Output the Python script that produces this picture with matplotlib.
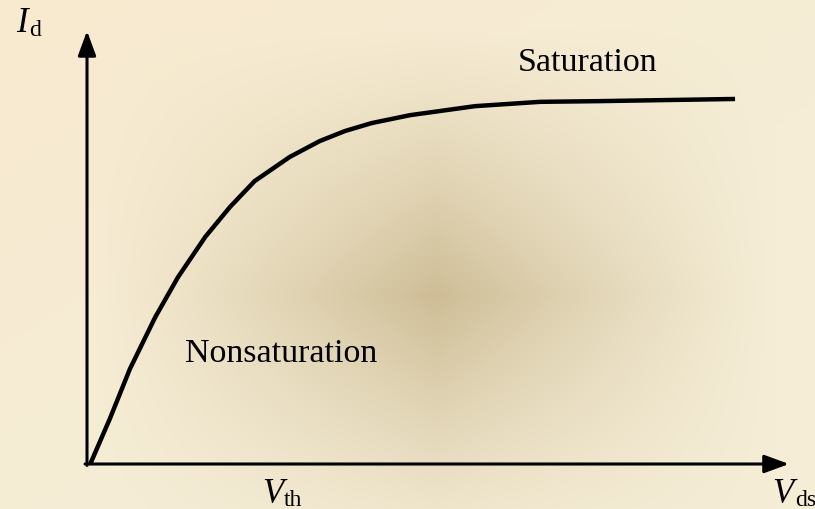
import numpy as np
import matplotlib
matplotlib.use("Agg")
import matplotlib.pyplot as plt

# Data (arbitrary units): drain current vs drain-source voltage
vds = [0.05, 0.35, 0.66, 1.05, 1.40, 1.82, 2.20, 2.58, 3.12, 3.58, 3.97, 4.38, 4.97, 5.97, 6.97, 7.89, 9.97]
i_d = [0.00, 1.25, 2.64, 4.08, 5.19, 6.31, 7.14, 7.86, 8.53, 8.97, 9.25, 9.47, 9.69, 9.94, 10.06, 10.08, 10.14]

W, H = 815, 510
fig = plt.figure(figsize=(W / 100, H / 100), dpi=100)

# background gradient (star-shaped path gradient)
bg = fig.add_axes([0, 0, 1, 1])
bg.set_axis_off()
yy, xx = np.mgrid[0:H, 0:W]
u = np.abs(xx - 436) / 340.0
v = np.abs(yy - 296) / 270.0
f = np.clip(1 - u, 0, 1) * np.clip(1 - v, 0, 1)
f = f ** 1.15
edge = np.array([245, 237, 214]) / 255.0
center = np.array([206, 189, 150]) / 255.0
warm = np.array([249, 233, 204]) / 255.0
tl = np.clip(1 - (xx / W + yy / H) / 1.2, 0, 1)[..., None]
base = edge * (1 - tl * 0.7) + warm * tl * 0.7
img = base * (1 - f[..., None]) + center * f[..., None]
bg.imshow(img, extent=[0, W, H, 0], aspect='auto', interpolation='bilinear')
bg.set_xlim(0, W)
bg.set_ylim(H, 0)

ax = fig.add_axes([0, 0, 1, 1])
ax.patch.set_alpha(0)
ax.set_axis_off()
ax.set_xlim(-87 / 65, (W - 87) / 65)
ax.set_ylim(-(H - 465) / 36, 465 / 36)

# axes arrows
arrow_kw = dict(arrowstyle='-|>,head_length=1.5,head_width=0.55', lw=2.2, color='black',
                mutation_scale=10, shrinkA=0, shrinkB=0)
ax.annotate('', xy=(10.8, 0), xytext=(-0.03, 0), arrowprops=arrow_kw)
ax.annotate('', xy=(0, 12.03), xytext=(0, -0.04), arrowprops=arrow_kw)

ax.plot(vds, i_d, color='black', lw=3.2, solid_joinstyle='round', solid_capstyle='butt')

serif = 'Liberation Serif'

def fx(px):
    return px / W

def fy(py):
    return 1 - py / H

fig.text(fx(518), fy(71), 'Saturation', family=serif, fontsize=24.5, va='baseline')
fig.text(fx(185), fy(362), 'Nonsaturation', family=serif, fontsize=24.5, va='baseline')

fig.text(fx(16), fy(32), 'I', family=serif, style='italic', fontsize=25, va='baseline')
fig.text(fx(29), fy(36), 'd', family=serif, fontsize=17, va='baseline')

fig.text(fx(262), fy(503), 'V', family=serif, style='italic', fontsize=25, va='baseline')
fig.text(fx(284), fy(506), 'th', family=serif, fontsize=17, va='baseline')

fig.text(fx(772), fy(503), 'V', family=serif, style='italic', fontsize=25, va='baseline')
fig.text(fx(795), fy(506), 'ds', family=serif, fontsize=17, va='baseline')

fig.savefig('out.png', dpi=100)
